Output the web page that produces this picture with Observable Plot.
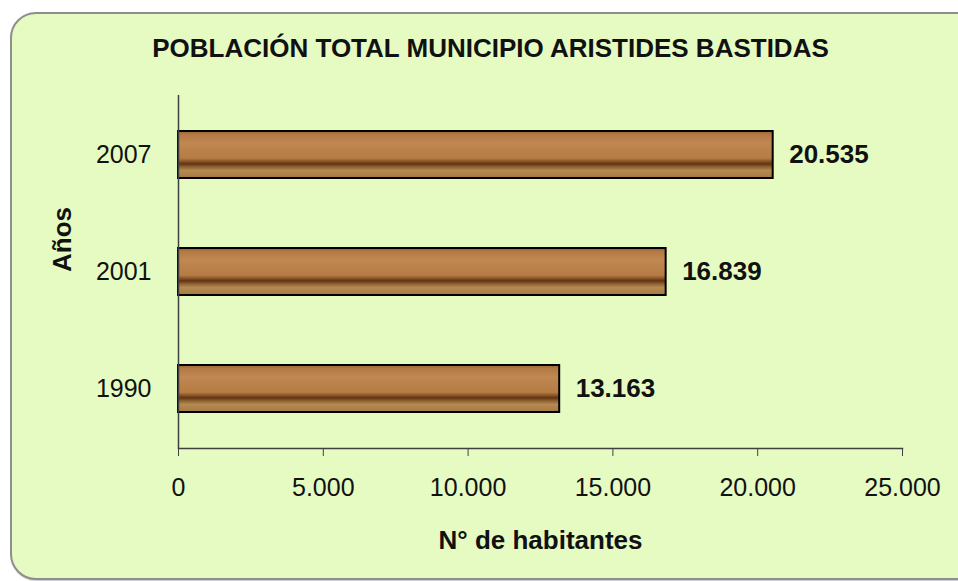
<!DOCTYPE html>
<html>
<head>
<meta charset="utf-8">
<script src="https://cdn.jsdelivr.net/npm/d3@7"></script>
<script src="https://cdn.jsdelivr.net/npm/@observablehq/plot@0.6"></script>
<style>
  html, body { margin: 0; padding: 0; background: #ffffff; width: 958px; height: 581px; overflow: hidden; }
  #panel { position: absolute; left: 10px; top: 12px; width: 980px; height: 564px;
           background: #e5fbc1; border: 2px solid #8e8e8e; border-radius: 26px;
           box-shadow: 1px 1px 2px rgba(0,0,0,0.25); }
  #chart { position: absolute; left: 0; top: 0; }
</style>
</head>
<body>
<div id="panel"></div>
<div id="chart"></div>
<script>
const titleText = "POBLACIÓN TOTAL MUNICIPIO ARISTIDES BASTIDAS";
const yLabel = "Años";
const xLabel = "N° de habitantes";
const years = ["2007", "2001", "1990"];
const population = [20535, 16839, 13163];
const xTicks = [0, 5000, 10000, 15000, 20000, 25000];

const locale = d3.formatLocale({decimal: ",", thousands: ".", grouping: [3], currency: ["", ""]});
const fmt = locale.format(",d");

const data = years.map((y, i) => ({year: y, value: population[i]}));

const svg = Plot.plot({
  width: 958,
  height: 581,
  marginLeft: 178,
  marginRight: 56,
  marginTop: 95,
  marginBottom: 133,
  style: {background: "transparent", fontFamily: "'Liberation Sans', Arial, sans-serif", color: "#000"},
  x: {domain: [0, 25000]},
  y: {domain: years, paddingInner: 0.6, paddingOuter: 0.3},
  marks: [
    Plot.barX(data, {x: "value", y: "year", fill: "url(#wood)", stroke: "#000", strokeWidth: 2, ariaLabel: "woodbar"}),
    Plot.text(data, {x: "value", y: "year", text: d => fmt(d.value), textAnchor: "start", dx: 16,
                     fontWeight: "bold", fontSize: 26, fill: "#111"}),
    Plot.ruleX([0], {stroke: "#404040", strokeWidth: 1.5}),
    Plot.frame({anchor: "bottom", stroke: "#404040", strokeWidth: 1.5}),
    Plot.axisX({ticks: xTicks, tickFormat: fmt, tickSize: 8, tickPadding: 22, fontSize: 25,
                label: null, stroke: "#404040", fill: "#111"}),
    Plot.axisY({tickSize: 0, tickPadding: 27, fontSize: 25, label: null, fill: "#111"}),
    Plot.text([titleText], {frameAnchor: "top", dx: -50, dy: -47, lineAnchor: "middle",
                            fontSize: 26, fontWeight: "bold", fill: "#111", ariaLabel: "charttitle"}),
    Plot.text([yLabel], {frameAnchor: "left", dx: -116, rotate: -90, lineAnchor: "middle",
                         fontSize: 26, fontWeight: "bold", fill: "#111"}),
    Plot.text([xLabel], {frameAnchor: "bottom", dy: 92, lineAnchor: "middle",
                         fontSize: 26, fontWeight: "bold", fill: "#111"})
  ]
});

const NS = "http://www.w3.org/2000/svg";
const defs = document.createElementNS(NS, "defs");
defs.innerHTML = `
  <linearGradient id="wood" x1="0" y1="0" x2="0" y2="1">
    <stop offset="0" stop-color="#9a6434"/>
    <stop offset="0.07" stop-color="#b37843"/>
    <stop offset="0.25" stop-color="#c08852"/>
    <stop offset="0.45" stop-color="#b98049"/>
    <stop offset="0.58" stop-color="#b57c44"/>
    <stop offset="0.645" stop-color="#8b5428"/>
    <stop offset="0.70" stop-color="#5e3414"/>
    <stop offset="0.76" stop-color="#8d6030"/>
    <stop offset="0.84" stop-color="#b58a52"/>
    <stop offset="1" stop-color="#a57a42"/>
  </linearGradient>
  <filter id="grain" x="-5%" y="-10%" width="110%" height="120%" color-interpolation-filters="sRGB">
    <feTurbulence type="fractalNoise" baseFrequency="0.006 0.2" numOctaves="3" seed="7" result="n"/>
    <feColorMatrix in="n" type="matrix" values="0.33 0.33 0.33 0 0  0.33 0.33 0.33 0 0  0.33 0.33 0.33 0 0  0 0 0 0 1" result="g"/>
    <feComponentTransfer in="g" result="g2">
      <feFuncR type="linear" slope="1.8" intercept="0.12"/>
      <feFuncG type="linear" slope="1.8" intercept="0.12"/>
      <feFuncB type="linear" slope="1.8" intercept="0.12"/>
    </feComponentTransfer>
    <feBlend in="SourceGraphic" in2="g2" mode="multiply" result="b"/>
    <feComposite in="b" in2="SourceGraphic" operator="in"/>
  </filter>`;
svg.insertBefore(defs, svg.firstChild);

const barG = svg.querySelector('g[aria-label="woodbar"]');
if (barG) barG.setAttribute("filter", "url(#grain)");

const t = svg.querySelector('g[aria-label="charttitle"] text');
if (t) { t.setAttribute("textLength", "695"); t.setAttribute("lengthAdjust", "spacingAndGlyphs"); }

document.getElementById("chart").appendChild(svg);
</script>
</body>
</html>
